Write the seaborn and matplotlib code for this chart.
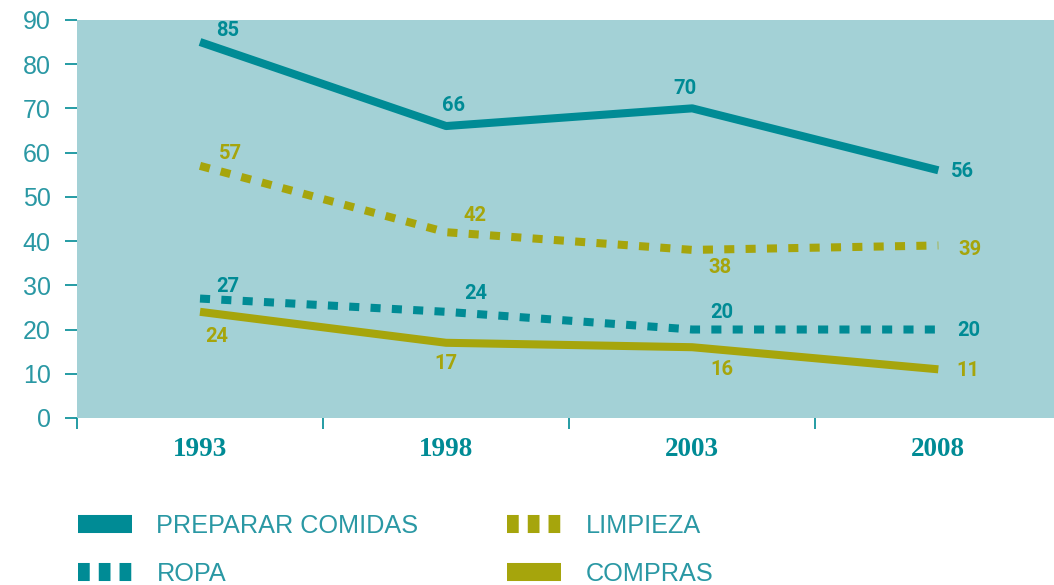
import matplotlib
matplotlib.use("Agg")
import matplotlib.pyplot as plt
from matplotlib.lines import Line2D
import seaborn as sns
import numpy as np
import pandas as pd

years = ["1993", "1998", "2003", "2008"]
preparar = [85, 66, 70, 56]
ropa = [27, 24, 20, 20]
limpieza = [57, 42, 38, 39]
compras = [24, 17, 16, 11]
series_names = ["PREPARAR COMIDAS", "ROPA", "LIMPIEZA", "COMPRAS"]

TEAL = "#008b95"
OLIVE = "#a6a50c"
BG = "#a3d1d6"
TICK = "#2a98a4"

sns.set_style("white")
plt.rcParams["font.family"] = ["Liberation Sans", "DejaVu Sans"]

x = np.arange(len(years)) + 0.5
fig = plt.figure(figsize=(10.54, 5.85), dpi=100)
ax = fig.add_axes([0.073, 0.2855, 0.927, 0.6805])
ax.set_facecolor(BG)

lw = 5.8
styles = {
    "PREPARAR COMIDAS": (TEAL, None),
    "ROPA": (TEAL, (1.25, 1.4)),
    "LIMPIEZA": (OLIVE, (1.25, 1.4)),
    "COMPRAS": (OLIVE, None),
}
values = dict(zip(series_names, [preparar, ropa, limpieza, compras]))

# label offsets in points (dx, dy) per series per year
offsets = {
    "PREPARAR COMIDAS": [(20, 8), (5, 15), (-5, 14), (17, -1)],
    "ROPA": [(20, 9), (21, 13), (21, 12), (22, -1)],
    "LIMPIEZA": [(22, 9), (21, 12), (20, -13), (23, -3)],
    "COMPRAS": [(12, -18), (0, -15), (21, -16), (21, -1)],
}

for name in series_names:
    color, dash = styles[name]
    df = pd.DataFrame({"x": x, "y": values[name]})
    line_ax = sns.lineplot(data=df, x="x", y="y", ax=ax, color=color, linewidth=lw)
    ln = line_ax.lines[-1]
    ln.set_solid_capstyle("butt")
    if dash is not None:
        ln.set_dashes(dash)
        ln.set_dash_capstyle("butt")
    for xi, yi, (dx, dy) in zip(x, values[name], offsets[name]):
        ax.annotate(str(yi), (xi, yi), xytext=(dx, dy), textcoords="offset points",
                    ha="center", va="center", fontsize=14.5, fontweight="bold",
                    color=color, family=["Roboto", "DejaVu Sans"])

ax.set_xlim(0, 3.97)
ax.set_ylim(0, 90)
ax.set_yticks(range(0, 91, 10))
ax.set_xticks([0, 1, 2, 3])
ax.set_xticklabels([])
ax.set_xticks(x, minor=True)
ax.set_xticklabels(years, minor=True, fontsize=19.5, fontweight="bold",
                   color=TEAL, family=["Liberation Serif", "DejaVu Serif"])
ax.tick_params(axis="x", which="major", direction="out", length=8, width=1.2,
               color=TEAL, bottom=True)
ax.tick_params(axis="x", which="minor", length=0, pad=14, bottom=True)
ax.tick_params(axis="y", direction="out", length=9, width=1.2, color=TEAL,
               labelcolor=TICK, labelsize=18, pad=10, left=True)
ax.set_xlabel("")
ax.set_ylabel("")
for s in ax.spines.values():
    s.set_visible(False)

handles = []
for name in series_names:
    color, dash = styles[name]
    h = Line2D([0], [0], color=color, linewidth=13, solid_capstyle="butt",
               dash_capstyle="butt")
    if dash is not None:
        h.set_dashes((0.65, 0.5))
    handles.append(h)
leg = fig.legend(handles, series_names, ncol=2, loc="upper left",
                 bbox_to_anchor=(0.0525, 0.16), frameon=False,
                 fontsize=18.2, handlelength=2.15, handletextpad=0.95,
                 columnspacing=3.5, labelspacing=0.95)
for t in leg.get_texts():
    t.set_color(TICK)

fig.savefig("out.png", dpi=100)
